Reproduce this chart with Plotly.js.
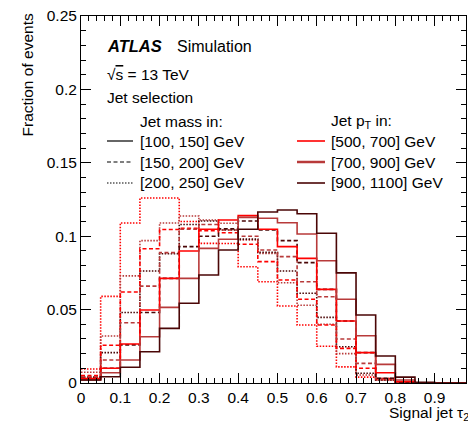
<!DOCTYPE html>
<html>
<head>
<meta charset="utf-8">
<script src="https://cdn.plot.ly/plotly-3.0.1.min.js"></script>
<style>html,body{margin:0;padding:0;background:#fff;}#chart{width:468px;height:421px;}</style>
</head>
<body>
<div id="chart"></div>
<script>
// Bin lower edges (width 0.05) of the signal jet tau21 distribution
const binEdges = [0,0.05,0.1,0.15,0.2,0.25,0.3,0.35,0.4,0.45,0.5,0.55,0.6,0.65,0.7,0.75,0.8,0.85,0.9,0.95,1.0];

// Jet mass bins (line style) and jet pT bins (colour)
const massLabels = ["[100, 150] GeV", "[150, 200] GeV", "[200, 250] GeV"];
const ptLabels = ["[500, 700] GeV", "[700, 900] GeV", "[900, 1100] GeV"];

// Fraction of events: pT [500,700]
const pt1_m1 = [0.003,0.010,0.0266,0.0497,0.0713,0.0899,0.1047,0.111,0.114,0.1047,0.0929,0.0849,0.0638,0.0422,0.0207,0.007,0.001,0,0,0];
const pt1_m2 = [0.005,0.0257,0.062,0.0915,0.1046,0.1054,0.1038,0.1024,0.0945,0.0827,0.0702,0.057,0.0395,0.0236,0.010,0.003,0.0005,0,0,0];
const pt1_m3 = [0.0095,0.059,0.109,0.126,0.126,0.110,0.0951,0.095,0.0792,0.069,0.0525,0.0395,0.025,0.011,0.004,0.002,0.0005,0,0,0];
// pT [700,900]
const pt2_m1 = [0.002,0.007,0.0157,0.0315,0.0515,0.0713,0.0917,0.0979,0.1128,0.1122,0.1092,0.1015,0.0833,0.057,0.0322,0.0127,0.002,0,0,0];
const pt2_m2 = [0.004,0.0157,0.041,0.066,0.0888,0.1047,0.108,0.1042,0.100,0.0906,0.0861,0.069,0.0588,0.030,0.0134,0.003,0.0005,0,0,0];
const pt2_m3 = [0.0073,0.032,0.073,0.097,0.109,0.1138,0.111,0.1088,0.0974,0.0883,0.0683,0.053,0.040,0.020,0.0054,0.002,0.0005,0,0,0];
// pT [900,1100]
const pt3_m1 = [0.002,0.0043,0.0107,0.0213,0.0372,0.0543,0.0736,0.0906,0.1047,0.1165,0.1178,0.1153,0.102,0.075,0.0463,0.0184,0.004,0.0005,0,0];
const pt3_m2 = [0.003,0.010,0.026,0.048,0.0713,0.0929,0.100,0.105,0.1104,0.1042,0.097,0.082,0.0638,0.0422,0.0207,0.0032,0.0005,0,0,0];
const pt3_m3 = [0.004,0.0207,0.048,0.0763,0.088,0.108,0.1104,0.1042,0.098,0.089,0.0763,0.0611,0.0447,0.0247,0.0066,0.002,0.0005,0,0,0];

const colors = ["#ff0000", "#b83a3a", "#4a0606"];
const dashes = ["solid", "4px,2.5px", "1.5px,1.5px"];
const series = [
  [pt1_m1, pt1_m2, pt1_m3],
  [pt2_m1, pt2_m2, pt2_m3],
  [pt3_m1, pt3_m2, pt3_m3]
];

const FONT = "Liberation Sans, Arial, Helvetica, sans-serif";
const FS = 15.5;
const traces = [];
// draw dotted first, then dashed, then solid
for (let m = 2; m >= 0; m--) {
  for (let p = 0; p < 3; p++) {
    const vals = series[p][m];
    traces.push({
      type: "scatter", mode: "lines",
      x: binEdges.slice(0, vals.length).concat([binEdges[vals.length]]),
      y: vals.concat([vals[vals.length - 1]]),
      line: {shape: "hv", color: colors[p], width: 1.6, dash: dashes[m]},
      showlegend: false, hoverinfo: "skip"
    });
  }
}

const L = 81, R = 466, T = 16, B = 383;
const px2x = px => (px - L) / (R - L);
const px2y = py => (B - py) / (B - T);

function txt(px, py, text, size, extra) {
  return Object.assign({xref: "paper", yref: "paper", x: px2x(px), y: px2y(py),
    xanchor: "left", yanchor: "middle", text: text, showarrow: false,
    font: {family: FONT, size: size || FS, color: "#000"}}, extra || {});
}

const annotations = [
  txt(105, 46, "<b><i>ATLAS</i></b>", 16.5),
  txt(175, 46, "Simulation", 16),
  txt(105, 74, "√<span style=\"text-decoration:overline\">s</span> = 13 TeV"),
  txt(105, 97, "Jet selection"),
  txt(138, 121, "Jet mass in:"),
  txt(329, 121, "Jet p<sub>T</sub> in:"),
  txt(387, 413, "Signal jet τ<sub>21</sub>"),
  {xref: "paper", yref: "paper", x: px2x(27), y: px2y(12), xanchor: "center", yanchor: "top",
   textangle: -90, text: "Fraction of events", showarrow: false, font: {family: FONT, size: FS}}
];
const shapes = [];
const rowY = [141, 162, 183];
massLabels.forEach((lab, m) => {
  annotations.push(txt(138, rowY[m], lab));
  shapes.push({type: "line", xref: "paper", yref: "paper",
    x0: px2x(107), x1: px2x(133), y0: px2y(rowY[m]), y1: px2y(rowY[m]),
    line: {color: "#000", width: 1.2, dash: dashes[m]}});
});
ptLabels.forEach((lab, p) => {
  annotations.push(txt(329, rowY[p], lab));
  shapes.push({type: "line", xref: "paper", yref: "paper",
    x0: px2x(297), x1: px2x(325), y0: px2y(rowY[p]), y1: px2y(rowY[p]),
    line: {color: colors[p], width: p === 1 ? 2.5 : 1.6}});
});

const layout = {
  width: 468, height: 421,
  margin: {l: L, r: 468 - R, t: T, b: 421 - B},
  paper_bgcolor: "#fff", plot_bgcolor: "#fff",
  font: {family: FONT, size: FS, color: "#000"},
  showlegend: false,
  xaxis: {
    range: [0, (R - L) / 392.9], dtick: 0.1, tick0: 0,
    ticks: "inside", ticklen: 10, tickwidth: 1, tickcolor: "#000",
    minor: {dtick: 0.02, ticks: "inside", ticklen: 5, tickcolor: "#000"},
    showline: true, linecolor: "#000", linewidth: 1, mirror: "allticks",
    showgrid: false, zeroline: false,
    tickfont: {family: FONT, size: FS}
  },
  yaxis: {
    range: [0, 0.25], dtick: 0.05, tick0: 0,
    ticks: "inside", ticklen: 10, tickwidth: 1, tickcolor: "#000",
    minor: {dtick: 0.01, ticks: "inside", ticklen: 5, tickcolor: "#000"},
    showline: true, linecolor: "#000", linewidth: 1, mirror: "allticks",
    showgrid: false, zeroline: false,
    tickfont: {family: FONT, size: FS}
  },
  shapes: shapes,
  annotations: annotations
};

Plotly.newPlot("chart", traces, layout, {staticPlot: true, displayModeBar: false});
</script>
</body>
</html>
